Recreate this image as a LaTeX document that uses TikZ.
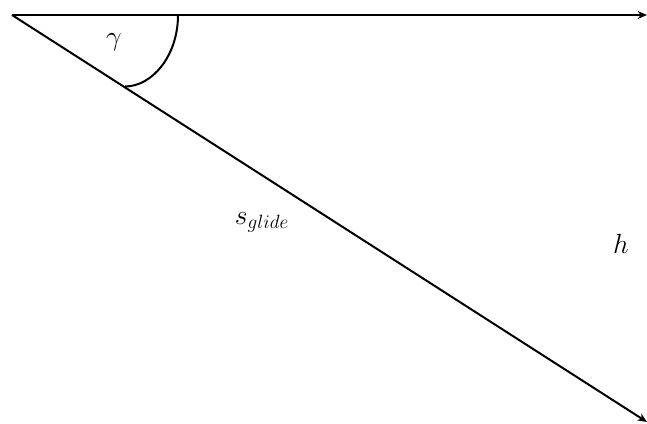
\documentclass[tikz,border=0pt]{standalone}
\usepackage{tikz}
\usetikzlibrary{arrows.meta}
\tikzset{strahl/.style={black,line width=1.5pt,-{Stealth[length=7pt,width=6pt]}},
  bogen/.style={black,line width=1.5pt},
  formel/.style={inner sep=0,font=\fontsize{22}{26}\selectfont}}

\begin{document}
\begin{tikzpicture}[x=0.75pt,y=-0.75pt]
\useasboundingbox (0,0) rectangle (647,424);
\coordinate (apex) at (12,15);
\coordinate (obenende) at (647,15);
\coordinate (untenende) at (647,422);
\coordinate (bogenA) at (178,15);
\coordinate (bogenB) at (125,86.5);
\draw[strahl] (apex) -- (obenende);
\draw[strahl] (apex) -- (untenende);
\draw[bogen] (bogenA) .. controls (178,56) and (152,86.5) .. (bogenB);
\node[formel] (gamma) at (114,42) {$\gamma$};
\node[formel] (sglide) at (262,222) {$s_{glide}$};
\node[formel] (hoehe) at (621,244) {$h$};
\end{tikzpicture}
\end{document}
